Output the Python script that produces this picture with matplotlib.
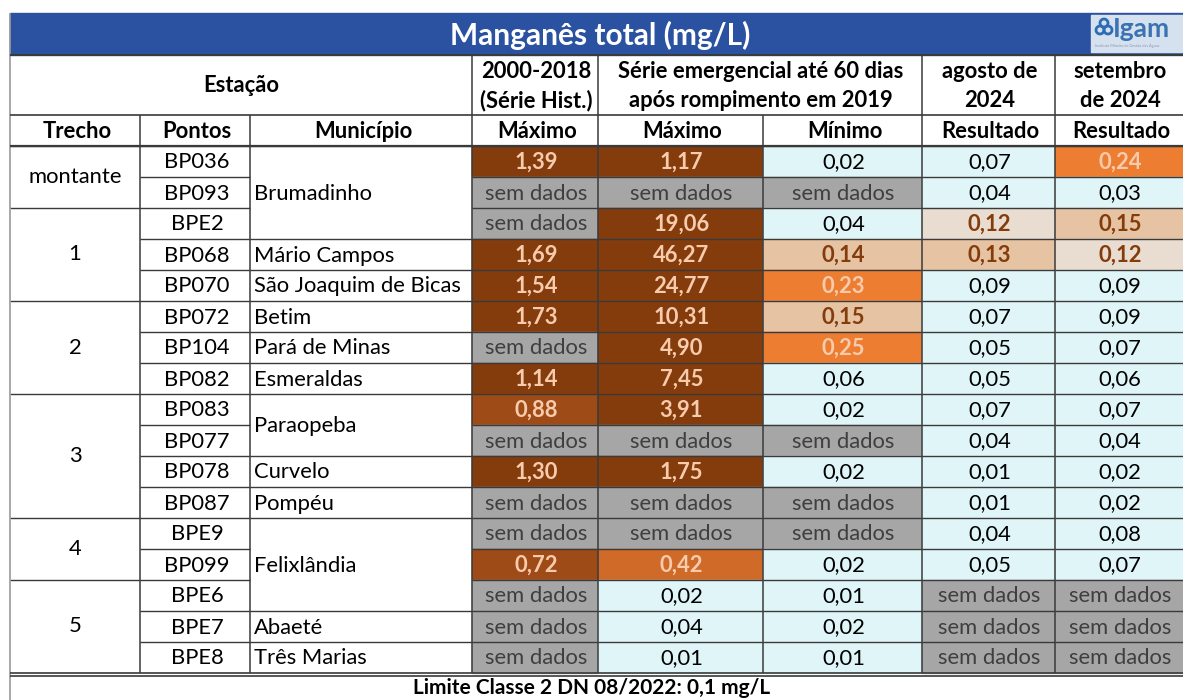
import matplotlib
matplotlib.use("Agg")
import matplotlib.pyplot as plt
from matplotlib.patches import Rectangle, Circle

plt.rcParams['font.family'] = ['Lato', 'DejaVu Sans']

# ---------------- data ----------------
title = "Manganês total (mg/L)"
footer = "Limite Classe 2 DN 08/2022: 0,1 mg/L"
trechos = [("montante", 0, 2), ("1", 2, 5), ("2", 5, 8), ("3", 8, 12), ("4", 12, 14), ("5", 14, 17)]
pontos = ["BP036", "BP093", "BPE2", "BP068", "BP070", "BP072", "BP104", "BP082",
          "BP083", "BP077", "BP078", "BP087", "BPE9", "BP099", "BPE6", "BPE7", "BPE8"]
municipios = [("Brumadinho", 0, 3), ("Mário Campos", 3, 4), ("São Joaquim de Bicas", 4, 5),
              ("Betim", 5, 6), ("Pará de Minas", 6, 7), ("Esmeraldas", 7, 8),
              ("Paraopeba", 8, 10), ("Curvelo", 10, 11), ("Pompéu", 11, 12),
              ("Felixlândia", 12, 15), ("Abaeté", 15, 16), ("Três Marias", 16, 17)]
hist_max = [1.39, None, None, 1.69, 1.54, 1.73, None, 1.14, 0.88, None, 1.30, None, None, 0.72, None, None, None]
emerg_max = [1.17, None, 19.06, 46.27, 24.77, 10.31, 4.90, 7.45, 3.91, None, 1.75, None, None, 0.42, 0.02, 0.04, 0.01]
emerg_min = [0.02, None, 0.04, 0.14, 0.23, 0.15, 0.25, 0.06, 0.02, None, 0.02, None, None, 0.02, 0.01, 0.02, 0.01]
agosto_2024 = [0.07, 0.04, 0.12, 0.13, 0.09, 0.07, 0.05, 0.05, 0.07, 0.04, 0.01, 0.01, 0.04, 0.05, None, None, None]
setembro_2024 = [0.24, 0.03, 0.15, 0.12, 0.09, 0.09, 0.07, 0.06, 0.07, 0.04, 0.02, 0.02, 0.08, 0.07, None, None, None]
value_cols = [hist_max, emerg_max, emerg_min, agosto_2024, setembro_2024]
header_top = ["2000-2018\n(Série Hist.)", "Série emergencial até 60 dias\napós rompimento em 2019",
              "agosto de\n2024", "setembro\nde 2024"]
header_sub = ["Trecho", "Pontos", "Município", "Máximo", "Máximo", "Mínimo", "Resultado", "Resultado"]

# ---------------- layout ----------------
W, H = 1183, 700
xs = [10, 140, 250, 472, 598, 763, 922, 1055, 1195]
y_title0, y_title1 = 13, 55
y_h1, y_h2, y_rows = 55, 115, 146
rh = 31.0
n = len(pontos)
y_end = y_rows + n * rh
FS = 15.8
LINE = "#3a3a3a"

fig = plt.figure(figsize=(W / 100, H / 100), dpi=100)
ax = fig.add_axes([0, 0, 1, 1])
ax.set_xlim(0, W)
ax.set_ylim(H, 0)
ax.axis("off")


def cell_style(v):
    if v is None:
        return "#a6a6a6", "#3f3f3f", "normal", "sem dados"
    s = f"{v:.2f}".replace(".", ",")
    if v <= 0.1:
        return "#dff5f8", "black", "normal", s
    if v <= 0.12:
        return "#e8ddd0", "#843c0c", "bold", s
    if v <= 0.2:
        return "#e6c3a3", "#843c0c", "bold", s
    if v <= 0.3:
        return "#ed7d31", "#f8cbad", "bold", s
    if v <= 0.5:
        return "#cf6a28", "#f8cbad", "bold", s
    if v <= 1.0:
        return "#9e4b18", "#f8cbad", "bold", s
    return "#843c0c", "#f8cbad", "bold", s


def hline(x0, x1, y, lw=1.2, c=LINE):
    ax.plot([x0, x1], [y, y], color=c, lw=lw, solid_capstyle="butt", zorder=5)


def vline(x, y0, y1, lw=1.2, c=LINE):
    ax.plot([x, x], [y0, y1], color=c, lw=lw, solid_capstyle="butt", zorder=5)


# title band
ax.add_patch(Rectangle((xs[0], y_title0), W - xs[0], y_title1 - y_title0, color="#2b52a0", zorder=1))
ax.text(600, (y_title0 + y_title1) / 2 + 1, title, color="white", fontsize=21.5, fontweight="bold",
        ha="center", va="center", zorder=6)
# logo
ax.add_patch(Rectangle((1091, 15), 95, 37, color="#d5e1ee", zorder=2))
for cx, cy in [(1100, 30), (1108, 30), (1104, 23)]:
    ax.add_patch(Circle((cx, cy), 4.0, fill=False, ec="#2e6db4", lw=2.0, zorder=3))
ax.text(1113, 29, "Igam", color="#3a72b2", fontsize=19, fontweight="bold", ha="left", va="center", zorder=4)
ax.text(1095, 46, "Instituto Mineiro de Gestão das Águas", color="#8a9bb0", fontsize=2.8,
        ha="left", va="center", zorder=4)

# header row 1
ax.text((xs[0] + xs[3]) / 2, (y_h1 + y_h2) / 2, "Estação", fontsize=FS, fontweight="bold",
        ha="center", va="center")
spans = [(3, 4), (4, 6), (6, 7), (7, 8)]
for (a, b), lab in zip(spans, header_top):
    xr = min(xs[b], W)
    ax.text((xs[a] + xr) / 2 + 1, (y_h1 + y_h2) / 2 + 1, lab, fontsize=FS, fontweight="bold",
            ha="center", va="center", linespacing=1.45)
# header row 2
for i, lab in enumerate(header_sub):
    xr = min(xs[i + 1], W)
    ax.text((xs[i] + xr) / 2 + 2, (y_h2 + y_rows) / 2 + 1, lab, fontsize=FS, fontweight="bold",
            ha="center", va="center")

# data cells
for j, col in enumerate(value_cols):
    x0, x1 = xs[3 + j], xs[4 + j]
    for i, v in enumerate(col):
        y0 = y_rows + i * rh
        bg, fc, fw, s = cell_style(v)
        ax.add_patch(Rectangle((x0, y0), x1 - x0, rh, color=bg, zorder=1))
        ax.text((x0 + min(x1, W)) / 2 + 1, y0 + rh / 2 + 1, s, color=fc, fontsize=FS, fontweight=fw,
                ha="center", va="center", zorder=6)
        hline(x0, x1, y0, lw=1.0)

for i, p in enumerate(pontos):
    y0 = y_rows + i * rh
    ax.text((xs[1] + xs[2]) / 2 + 2, y0 + rh / 2 + 1, p, fontsize=FS, ha="center", va="center")
    hline(xs[1], xs[2], y0, lw=1.0)

for name, a, b in trechos:
    y0, y1 = y_rows + a * rh, y_rows + b * rh
    ax.text((xs[0] + xs[1]) / 2, (y0 + y1) / 2, name, fontsize=FS, ha="center", va="center")
    hline(xs[0], xs[1], y0, lw=1.0)

for name, a, b in municipios:
    y0, y1 = y_rows + a * rh, y_rows + b * rh
    ax.text(xs[2] + 4, (y0 + y1) / 2 + 1, name, fontsize=FS, ha="left", va="center")
    hline(xs[2], xs[3], y0, lw=1.0)

# vertical lines
for x in xs[1:8]:
    vline(x, y_h2, y_end, lw=1.1)
for x in [xs[3], xs[4], xs[6], xs[7]]:
    vline(x, y_h1, y_h2, lw=1.1)
vline(xs[0], y_title0, H, lw=1.2, c="#9a9a9a")

# horizontal structural lines
hline(xs[0], W, y_title1, lw=1.4)
hline(xs[0], W, y_h2, lw=1.2)
hline(xs[0], W, y_rows, lw=1.6)
hline(xs[0], W, y_end, lw=1.2)
hline(xs[0], W, y_end + 3, lw=1.2)

# footer
ax.text(W / 2, (y_end + H) / 2 + 2, footer, fontsize=15, fontweight="bold", ha="center", va="center")

fig.savefig("out.png", dpi=100, facecolor="white")
